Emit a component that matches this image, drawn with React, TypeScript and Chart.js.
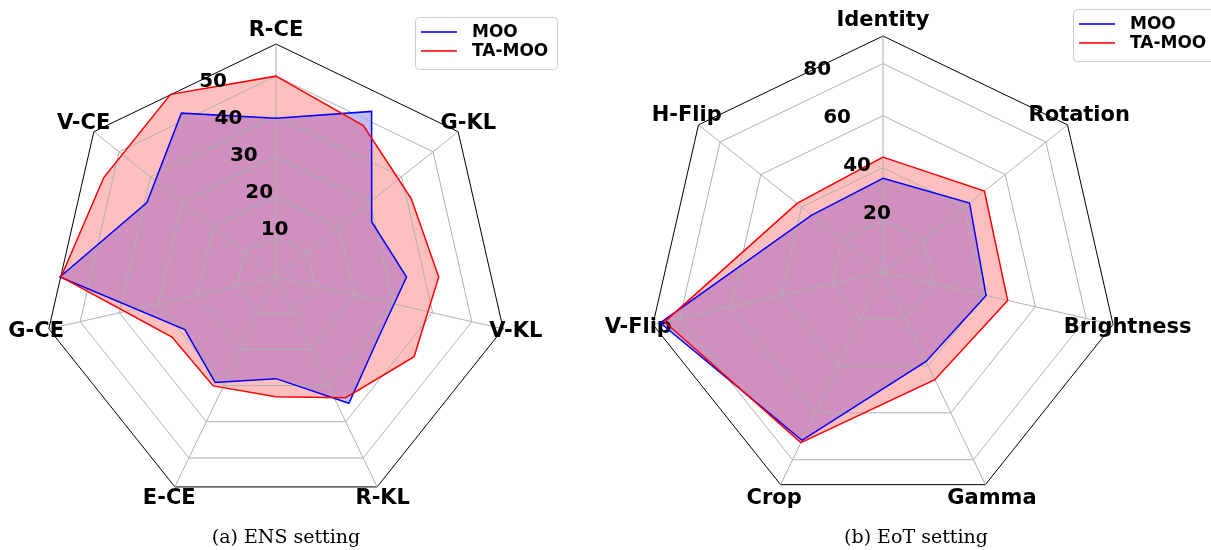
import React, { useEffect, useRef } from "react";
import { Chart, registerables } from "chart.js";

Chart.register(...registerables);

// ---------- (a) ENS setting ----------
const ensAxes = ["R-CE", "G-KL", "V-KL", "R-KL", "E-CE", "G-CE", "V-CE"];
// the plotted series use 12 evenly spaced directions (clockwise from top)
const ensDirections = ["0°", "30°", "60°", "90°", "120°", "150°", "180°", "210°", "240°", "270°", "300°", "330°"];
const ensMOO = [39.5, 47.6, 27.5, 32.5, 29.6, 36.3, 25.3, 30.3, 26.2, 53.8, 37.1, 47.1];
const ensTAMOO = [50.0, 43.5, 38.9, 40.5, 39.7, 34.7, 29.8, 31.3, 29.9, 53.5, 49.5, 52.5];
const ensTicks = [10, 20, 30, 40, 50];
const ensMax = 58;
const ensStep = 10;

// ---------- (b) EoT setting ----------
const eotAxes = ["Identity", "Rotation", "Brightness", "Gamma", "Crop", "V-Flip", "H-Flip"];
const eotDirections = eotAxes;
const eotMOO = [36.0, 42.5, 40.6, 38.1, 71.7, 87.7, 35.0];
const eotTAMOO = [44.1, 49.8, 49.1, 45.9, 72.7, 86.0, 42.2];
const eotTicks = [20, 40, 60, 80];
const eotMax = 90.6;
const eotStep = 20;

const seriesNames = ["MOO", "TA-MOO"];
const seriesColors = ["#0000ff", "#ff0000"];
const seriesFills = ["rgba(0,0,255,0.25)", "rgba(255,0,0,0.25)"];

const captions = ["(a) ENS setting", "(b) EoT setting"];

const AXIS_FONT = "bold 21px 'DejaVu Sans'";
const TICK_FONT = "bold 20px 'DejaVu Sans'";
const LEGEND_FONT = "bold 17px 'DejaVu Sans'";

type PanelProps = {
  left: number;
  width: number;
  height: number;
  pad: { left: number; top: number; right: number; bottom: number };
  axes: string[];
  directions: string[];
  series: number[][];
  ticks: number[];
  max: number;
  step: number;
  labelPad: number;
  legend: { x: number; y: number; w: number; h: number };
};

function RadarPanel(p: PanelProps) {
  const fillRef = useRef<HTMLCanvasElement | null>(null);
  const gridRef = useRef<HTMLCanvasElement | null>(null);
  const lineRef = useRef<HTMLCanvasElement | null>(null);

  useEffect(() => {
    const scaleBase = (showGrid: boolean) => ({
      min: 0,
      max: p.max,
      beginAtZero: true,
      ticks: { display: false, stepSize: p.step },
      grid: {
        display: showGrid,
        color: (ctx: any) => (ctx.tick && ctx.tick.value >= p.max - 1e-6 ? "#000000" : "#b0b0b0"),
        lineWidth: 1,
      },
      angleLines: { display: showGrid, color: "#b0b0b0", lineWidth: 1 },
      pointLabels: { display: false },
    });

    const axisLabelPlugin = {
      id: "axisLabels",
      afterDraw(chart: any) {
        const ctx = chart.ctx;
        const scale = chart.scales.r;
        ctx.save();
        ctx.fillStyle = "#000";
        ctx.font = AXIS_FONT;
        ctx.textAlign = "center";
        ctx.textBaseline = "middle";
        p.axes.forEach((lab, i) => {
          const pos = scale.getPointPosition(i, scale.drawingArea + p.labelPad);
          ctx.fillText(lab, pos.x, pos.y);
        });
        ctx.restore();
      },
    };

    const overlayPlugin = {
      id: "overlay",
      afterDraw(chart: any) {
        const ctx = chart.ctx;
        const scale = chart.scales.r;
        ctx.save();
        // radial tick labels at 22.5° left of the top axis
        const ang = -Math.PI / 2 - Math.PI / 8;
        ctx.font = TICK_FONT;
        ctx.fillStyle = "#000";
        ctx.textAlign = "left";
        ctx.textBaseline = "bottom";
        p.ticks.forEach((v) => {
          const d = scale.getDistanceFromCenterForValue(v);
          ctx.fillText(String(v), scale.xCenter + Math.cos(ang) * d, scale.yCenter + Math.sin(ang) * d);
        });
        // legend
        const L = p.legend;
        ctx.beginPath();
        ctx.roundRect(L.x + 0.5, L.y + 0.5, L.w, L.h, 4);
        ctx.fillStyle = "rgba(255,255,255,0.8)";
        ctx.fill();
        ctx.strokeStyle = "#cccccc";
        ctx.lineWidth = 1;
        ctx.stroke();
        ctx.font = LEGEND_FONT;
        ctx.textBaseline = "middle";
        chart.data.datasets.forEach((ds: any, i: number) => {
          const yy = L.y + 15 + i * 19;
          ctx.beginPath();
          ctx.moveTo(L.x + 6, yy);
          ctx.lineTo(L.x + 42, yy);
          ctx.strokeStyle = ds.borderColor;
          ctx.lineWidth = 1.5;
          ctx.stroke();
          ctx.fillStyle = "#000";
          ctx.fillText(ds.label, L.x + 57, yy + 1);
        });
        ctx.restore();
      },
    };

    const common = {
      responsive: false,
      animation: false as const,
      layout: { padding: p.pad },
      plugins: { legend: { display: false }, tooltip: { enabled: false } },
    };

    const makeDatasets = (withFill: boolean) =>
      p.series.map((s, i) => ({
        label: seriesNames[i],
        data: s,
        borderColor: withFill ? "rgba(0,0,0,0)" : seriesColors[i],
        backgroundColor: seriesFills[i],
        borderWidth: withFill ? 0 : 1.5,
        pointRadius: 0,
        fill: withFill,
        order: p.series.length - i,
        borderJoinStyle: "miter" as const,
      }));

    // layer 1: filled areas
    const fillChart = new Chart(fillRef.current as HTMLCanvasElement, {
      type: "radar",
      data: { labels: p.directions, datasets: makeDatasets(true) },
      options: { ...common, elements: { line: { tension: 0 } }, scales: { r: scaleBase(false) as any } },
    });

    // layer 2: polygon grid, spokes and axis names
    const gridChart = new Chart(gridRef.current as HTMLCanvasElement, {
      type: "radar",
      data: { labels: p.axes, datasets: [] },
      options: { ...common, scales: { r: scaleBase(true) as any } },
      plugins: [axisLabelPlugin],
    });

    // layer 3: outlines, tick labels, legend
    const lineChart = new Chart(lineRef.current as HTMLCanvasElement, {
      type: "radar",
      data: { labels: p.directions, datasets: makeDatasets(false) },
      options: { ...common, elements: { line: { tension: 0 } }, scales: { r: scaleBase(false) as any } },
      plugins: [overlayPlugin],
    });

    return () => {
      fillChart.destroy();
      gridChart.destroy();
      lineChart.destroy();
    };
  }, []);

  const style: React.CSSProperties = {
    position: "absolute",
    left: p.left,
    top: 0,
    width: p.width,
    height: p.height,
  };
  return (
    <>
      <canvas ref={fillRef} width={p.width} height={p.height} style={style} />
      <canvas ref={gridRef} width={p.width} height={p.height} style={style} />
      <canvas ref={lineRef} width={p.width} height={p.height} style={style} />
    </>
  );
}

export default function App() {
  const captionStyle = (cx: number): React.CSSProperties => ({
    position: "absolute",
    left: cx - 150,
    width: 300,
    top: 524,
    textAlign: "center",
    fontFamily: "'DejaVu Serif', serif",
    fontSize: 19,
    lineHeight: "24px",
    color: "#000",
  });
  return (
    <div
      style={{
        position: "fixed",
        left: 0,
        top: 0,
        width: 1211,
        height: 550,
        background: "#fff",
        overflow: "hidden",
      }}
    >
      <RadarPanel
        left={0}
        width={600}
        height={520}
        pad={{ left: 43, top: 44, right: 91, bottom: 10 }}
        axes={ensAxes}
        directions={ensDirections}
        series={[ensMOO, ensTAMOO]}
        ticks={ensTicks}
        max={ensMax}
        step={ensStep}
        labelPad={13}
        legend={{ x: 415, y: 17, w: 142, h: 52 }}
      />
      <RadarPanel
        left={600}
        width={611}
        height={520}
        pad={{ left: 47, top: 36, right: 92, bottom: 12 }}
        axes={eotAxes}
        directions={eotDirections}
        series={[eotMOO, eotTAMOO]}
        ticks={eotTicks}
        max={eotMax}
        step={eotStep}
        labelPad={15}
        legend={{ x: 473, y: 9, w: 142, h: 52 }}
      />
      <div style={captionStyle(286)}>{captions[0]}</div>
      <div style={captionStyle(916)}>{captions[1]}</div>
    </div>
  );
}
